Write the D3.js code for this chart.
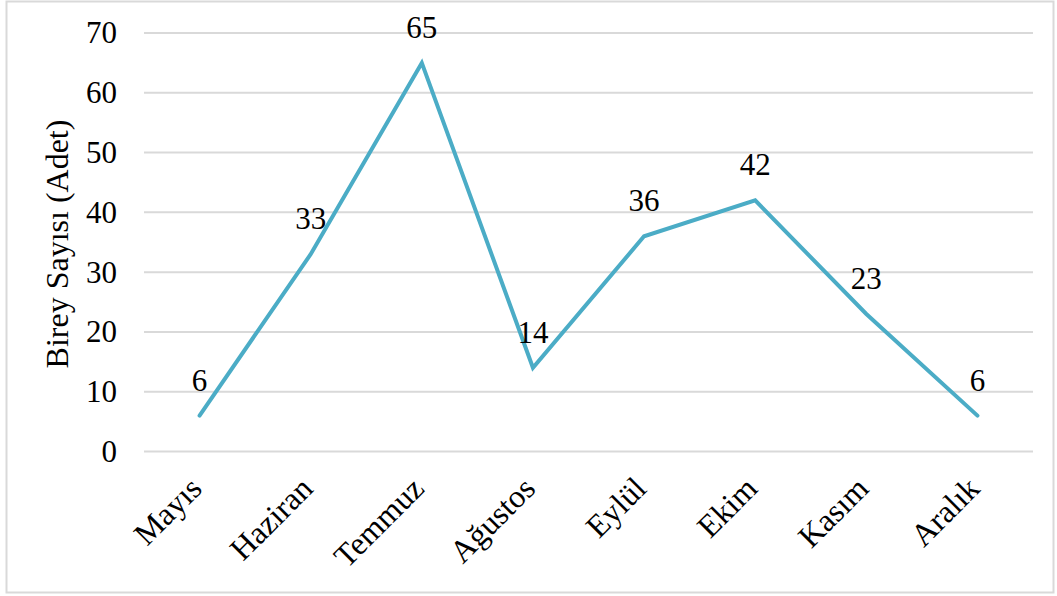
<!DOCTYPE html>
<html>
<head>
<meta charset="utf-8">
<script src="https://cdn.jsdelivr.net/npm/d3@7"></script>
<style>
  body { margin: 0; background: #fff; }
</style>
</head>
<body>
<div id="chart"></div>
<script>
// Aylara göre birey sayısı
const aylar = ["Mayıs", "Haziran", "Temmuz", "Ağustos", "Eylül", "Ekim", "Kasım", "Aralık"];
const bireySayisi = [6, 33, 65, 14, 36, 42, 23, 6];
const yTicks = [0, 10, 20, 30, 40, 50, 60, 70];
const yBaslik = "Birey Sayısı (Adet)";

const FONT = "'Liberation Serif', 'Times New Roman', Times, serif";
const FS = "31px";

const W = 1057, H = 596;
const margin = { top: 33, right: 24, bottom: 144.5, left: 144 };
const width = W - margin.left - margin.right,
      height = H - margin.top - margin.bottom;

const svg = d3.select("#chart").append("svg")
    .attr("width", W)
    .attr("height", H)
    .attr("font-family", FONT);

// dış çerçeve
svg.append("rect")
    .attr("x", 6.5).attr("y", 1.5)
    .attr("width", 1047).attr("height", 591)
    .attr("fill", "#fff")
    .attr("stroke", "#d9d9d9")
    .attr("stroke-width", 2);

const chart = svg.append("g")
    .attr("transform", `translate(${margin.left},${margin.top})`);

const x = d3.scaleBand()
    .domain(aylar)
    .range([0, width]);

const y = d3.scaleLinear()
    .domain([0, 70])
    .range([height, 0]);

// yatay ızgara çizgileri
chart.append("g")
    .selectAll("line")
    .data(yTicks)
    .enter()
    .append("line")
    .attr("x1", 0)
    .attr("x2", width)
    .attr("y1", d => y(d))
    .attr("y2", d => y(d))
    .attr("stroke", "#d9d9d9")
    .attr("stroke-width", 2);

// y ekseni etiketleri
const yAxis = chart.append("g")
    .call(d3.axisLeft(y).tickValues(yTicks).tickSize(0).tickPadding(27))
    .attr("font-family", FONT);
yAxis.select(".domain").remove();
yAxis.selectAll("text")
    .style("font-family", FONT)
    .style("font-size", FS)
    .attr("fill", "#000");

// x ekseni etiketleri (45 derece eğik)
chart.append("g")
    .selectAll("text")
    .data(aylar)
    .enter()
    .append("text")
    .attr("transform", d => `translate(${x(d) + x.bandwidth() / 2 + 4},${height + 39}) rotate(-45)`)
    .attr("text-anchor", "end")
    .style("font-family", FONT)
    .style("font-size", "32px")
    .text(d => d);

// y başlığı
svg.append("text")
    .attr("transform", `translate(68,${(118 + 370) / 2}) rotate(-90)`)
    .attr("text-anchor", "middle")
    .style("font-family", FONT)
    .style("font-size", "32px")
    .text(yBaslik);

const pts = aylar.map((a, i) => ({ ay: a, v: bireySayisi[i] }));

const line = d3.line()
    .x(d => x(d.ay) + x.bandwidth() / 2)
    .y(d => y(d.v));

chart.append("path")
    .datum(pts)
    .attr("d", line)
    .attr("fill", "none")
    .attr("stroke", "#4bacc6")
    .attr("stroke-width", 4)
    .attr("stroke-linejoin", "miter")
    .attr("stroke-linecap", "round");

// veri etiketleri
chart.append("g")
    .selectAll("text")
    .data(pts)
    .enter()
    .append("text")
    .attr("x", d => x(d.ay) + x.bandwidth() / 2)
    .attr("y", d => y(d.v) - 25)
    .attr("text-anchor", "middle")
    .style("font-family", FONT)
    .style("font-size", FS)
    .text(d => d.v);
</script>
</body>
</html>
